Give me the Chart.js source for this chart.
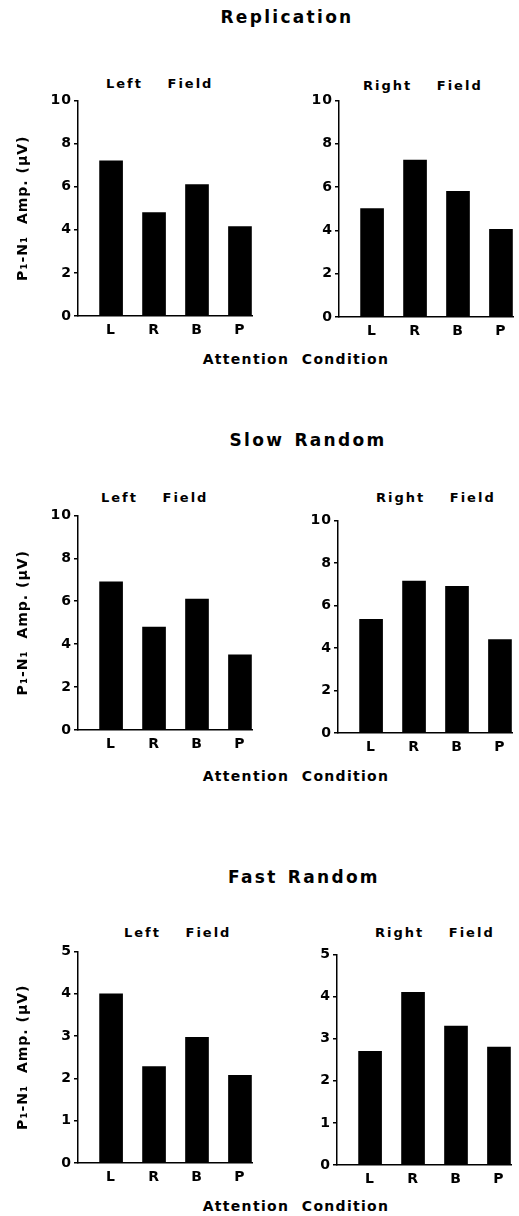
<!DOCTYPE html>
<html>
<head>
<meta charset="utf-8">
<title>P1-N1 amplitude by attention condition</title>
<script src="https://cdn.jsdelivr.net/npm/chart.js@4.4.0/dist/chart.umd.min.js"></script>
<style>
  body { margin: 0; background: #fff; }
  #page {
    position: relative; width: 519px; height: 1216px; overflow: hidden;
    font-family: "DejaVu Sans", Arial, sans-serif; font-weight: bold; color: #000;
  }
  .txt { position: absolute; white-space: pre; line-height: 1; }
  .head { font-size: 17px; letter-spacing: 2.3px; word-spacing: 2px; transform: translate(-50%, -50%); }
  .sub { font-size: 13px; letter-spacing: 2px; word-spacing: 18px; transform: translateY(-50%); }
  .xt { font-size: 14px; letter-spacing: 1.3px; word-spacing: 6.5px; transform: translate(-50%, -50%); }
  canvas { position: absolute; }
</style>
</head>
<body>
<div id="page"></div>
<script>
const categories = ['L', 'R', 'B', 'P'];

// P1-N1 amplitude (µV) for each attention condition
const replicationLeft = [7.2, 4.8, 6.1, 4.15];
const replicationRight = [5.0, 7.25, 5.8, 4.05];
const slowLeft = [6.9, 4.8, 6.1, 3.5];
const slowRight = [5.35, 7.15, 6.9, 4.4];
const fastLeft = [4.0, 2.28, 2.97, 2.07];
const fastRight = [2.7, 4.1, 3.3, 2.8];

// y tick labels
const tallTicks = [0, 2, 4, 6, 8, 10];
const shortTicks = [0, 1, 2, 3, 4, 5];

const yTitle = 'P\u2081-N\u2081  Amp. (\u00b5V)';
const xTitle = 'Attention Condition';

const headings = [
  { text: 'Replication', x: 287, y: 17 },
  { text: 'Slow Random', x: 308, y: 440 },
  { text: 'Fast Random', x: 304, y: 877 }
];

const panels = [
  { values: replicationLeft, ticks: tallTicks, field: 'Left Field', fx: 106, fy: 83, pageLeft: 0, axisX: 78, top: 99, bottom: 316, yTitle: true },
  { values: replicationRight, ticks: tallTicks, field: 'Right Field', fx: 363, fy: 85, pageLeft: 260, axisX: 339, top: 99, bottom: 317 },
  { values: slowLeft, ticks: tallTicks, field: 'Left Field', fx: 101, fy: 497, pageLeft: 0, axisX: 78, top: 514, bottom: 730, yTitle: true },
  { values: slowRight, ticks: tallTicks, field: 'Right Field', fx: 376, fy: 497, pageLeft: 260, axisX: 338, top: 519, bottom: 733 },
  { values: fastLeft, ticks: shortTicks, field: 'Left Field', fx: 124, fy: 932, pageLeft: 0, axisX: 78, top: 950, bottom: 1163, yTitle: true },
  { values: fastRight, ticks: shortTicks, field: 'Right Field', fx: 375, fy: 932, pageLeft: 260, axisX: 337, top: 953, bottom: 1165 }
];

const xTitles = [359, 776, 1206];

const page = document.getElementById('page');

function addText(cls, text, x, y) {
  const d = document.createElement('div');
  d.className = 'txt ' + cls;
  d.textContent = text;
  d.style.left = x + 'px';
  d.style.top = y + 'px';
  page.appendChild(d);
}

headings.forEach(h => addText('head', h.text, h.x, h.y));
xTitles.forEach(y => addText('xt', xTitle, 296, y));

// the old typesetting is loosely spaced
const spacing = {
  id: 'spacing',
  beforeDraw(chart) { chart.ctx.letterSpacing = '1px'; }
};

const font = { family: '"DejaVu Sans", Arial, sans-serif', weight: 'bold', size: 14 };
const plotWidth = 174;

panels.forEach(p => {
  addText('sub', p.field, p.fx, p.fy);

  const canvas = document.createElement('canvas');
  const w = p.pageLeft === 0 ? 260 : 259;
  const padTop = 9;
  canvas.width = w;
  canvas.height = p.bottom - p.top + padTop + 26;
  canvas.style.left = p.pageLeft + 'px';
  canvas.style.top = (p.top - padTop) + 'px';
  page.appendChild(canvas);

  const yWidth = p.axisX - p.pageLeft;

  new Chart(canvas.getContext('2d'), {
    type: 'bar',
    data: {
      datasets: [{
        label: p.field,
        data: categories.map((c, i) => ({ x: i + 1, y: p.values[i] })),
        backgroundColor: '#000',
        barThickness: 23
      }]
    },
    options: {
      responsive: false,
      animation: false,
      events: [],
      layout: { padding: { top: padTop, left: 0, bottom: 0, right: w - yWidth - plotWidth } },
      plugins: { legend: { display: false }, tooltip: { enabled: false } },
      scales: {
        x: {
          type: 'linear',
          offset: false,
          min: 0.23,
          max: 4.28,
          afterBuildTicks: s => { s.ticks = categories.map((c, i) => ({ value: i + 1 })); },
          afterFit: s => { s.height = 26; },
          grid: { display: false, drawTicks: false },
          border: { color: '#000', width: 1.5 },
          ticks: {
            color: '#000', font: font, padding: 6, autoSkip: false, maxRotation: 0,
            callback: v => categories[v - 1] || ''
          }
        },
        y: {
          min: 0,
          max: p.ticks[p.ticks.length - 1],
          afterBuildTicks: s => { s.ticks = p.ticks.map(v => ({ value: v })); },
          afterFit: s => { s.width = yWidth; },
          grid: { drawOnChartArea: false, tickLength: 4, color: '#000', lineWidth: 1.5 },
          border: { color: '#000', width: 1.5 },
          ticks: { color: '#000', font: font, padding: 2 },
          title: {
            display: !!p.yTitle,
            text: yTitle,
            color: '#000',
            font: { family: font.family, weight: 'bold', size: 14 },
            padding: { top: 15, bottom: 0 }
          }
        }
      }
    },
    plugins: [spacing]
  });
});
</script>
</body>
</html>
